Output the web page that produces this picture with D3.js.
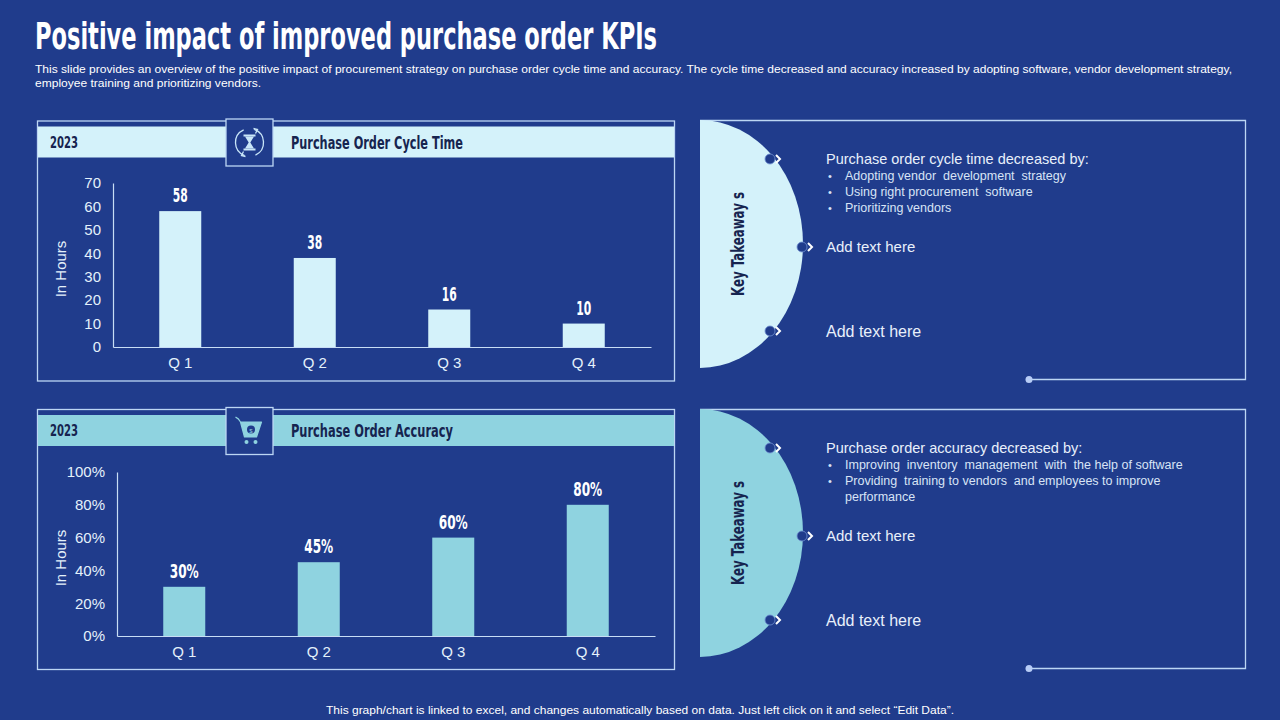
<!DOCTYPE html>
<html>
<head>
<meta charset="utf-8">
<style>
  body { margin: 0; background: #203C8C; }
  svg { display: block; }
  .axis path, .axis line { stroke: #C8DDF5; stroke-width: 1.2; }
  .axis text { font-family: "Liberation Sans", Arial, sans-serif; fill: #E4F1FB; }
</style>
<script src="https://cdn.jsdelivr.net/npm/d3@7"></script>
</head>
<body>
<script>
// ---- data ----
const quarters = ["Q 1", "Q 2", "Q 3", "Q 4"];
const cycleTime = [58, 38, 16, 10];          // hours
const accuracy = [30, 45, 60, 80];           // percent
const cycleTicks = [0, 10, 20, 30, 40, 50, 60, 70];
const accuracyTicks = [0, 20, 40, 60, 80, 100];

const cycleNotes = ["Adopting vendor  development  strategy", "Using right procurement  software", "Prioritizing vendors"];
const accuracyNotes = ["Improving  inventory  management  with  the help of software", "Providing  training to vendors  and employees to improve", "performance"];

const W = 1280, H = 720;
const bg = "#203C8C", pale = "#D4F2FA", mid = "#8FD3E0", ink = "#16244F", line = "#BCD6F4";
const narrow = "'Liberation Sans Narrow', 'DejaVu Sans Condensed', sans-serif";
const sans = "'Liberation Sans', Arial, sans-serif";

const svg = d3.select("body").append("svg").attr("width", W).attr("height", H);
svg.append("rect").attr("width", W).attr("height", H).attr("fill", bg);

// title + subtitle
svg.append("text").attr("x", 35).attr("y", 49)
  .attr("font-family", narrow).attr("font-weight", "bold").attr("font-size", 38)
  .attr("fill", "#fff").attr("textLength", 622).attr("lengthAdjust", "spacingAndGlyphs")
  .text("Positive impact of improved purchase order KPIs");

svg.append("text").attr("x", 35).attr("y", 73)
  .attr("font-family", sans).attr("font-size", 11).attr("fill", "#fff")
  .attr("textLength", 1197).attr("lengthAdjust", "spacingAndGlyphs")
  .text("This slide provides an overview of the positive impact of procurement strategy on purchase order cycle time and accuracy. The cycle time decreased and accuracy increased by adopting software, vendor development strategy,");
svg.append("text").attr("x", 35).attr("y", 87)
  .attr("font-family", sans).attr("font-size", 11).attr("fill", "#fff")
  .attr("textLength", 226).attr("lengthAdjust", "spacingAndGlyphs")
  .text("employee training and prioritizing vendors.");

// footer
svg.append("text").attr("x", 640).attr("y", 714).attr("text-anchor", "middle")
  .attr("font-family", sans).attr("font-size", 11).attr("fill", "#fff")
  .attr("textLength", 628).attr("lengthAdjust", "spacingAndGlyphs")
  .text("This graph/chart is linked to excel, and changes automatically based on data. Just left click on it and select \u201CEdit Data\u201D.");

// ---- bar chart panel ----
function chartPanel(o) {
  const g = svg.append("g").attr("transform", `translate(0,${o.top})`);
  // frame and header band
  g.append("rect").attr("x", 37.5).attr("y", 0.5).attr("width", 637).attr("height", 260)
    .attr("fill", "none").attr("stroke", line).attr("stroke-width", 1.3);
  g.append("rect").attr("x", 38).attr("y", 6).attr("width", 636).attr("height", 31).attr("fill", o.band);
  g.append("text").attr("x", 50).attr("y", 27).attr("font-family", narrow).attr("font-weight", "bold")
    .attr("font-size", 15).attr("fill", ink).attr("textLength", 28).attr("lengthAdjust", "spacingAndGlyphs")
    .text("2023");
  g.append("text").attr("x", 291).attr("y", 28).attr("font-family", narrow).attr("font-weight", "bold")
    .attr("font-size", 18).attr("fill", ink).attr("textLength", o.titleLen).attr("lengthAdjust", "spacingAndGlyphs")
    .text(o.title);
  // icon box
  g.append("rect").attr("x", 226).attr("y", -1.5).attr("width", 47).attr("height", 47)
    .attr("fill", bg).attr("stroke", line).attr("stroke-width", 1.3);
  o.icon(g.append("g").attr("transform", "translate(249.5,22)"));

  const x = d3.scaleBand().domain(quarters).range([o.x0, o.x0 + 538]);
  const y = d3.scaleLinear().domain([0, o.max]).range([o.base, o.base - 164]);
  const bw = 42;

  g.append("g").attr("class", "axis").attr("transform", `translate(${o.x0},0)`)
    .call(d3.axisLeft(y).tickValues(o.ticks).tickSize(0).tickSizeOuter(0).tickPadding(12).tickFormat(o.fmt))
    .call(s => s.selectAll("text").attr("font-size", 15));
  g.append("g").attr("class", "axis").attr("transform", `translate(0,${o.base})`)
    .call(d3.axisBottom(x).tickSize(0).tickSizeOuter(0).tickPadding(10))
    .call(s => s.selectAll("text").attr("font-size", 15));

  g.selectAll("rect.bar").data(o.values).join("rect").attr("class", "bar")
    .attr("x", (d, i) => x(quarters[i]) + x.bandwidth() / 2 - bw / 2)
    .attr("y", d => y(d)).attr("width", bw).attr("height", d => o.base - y(d))
    .attr("fill", o.bar);

  g.selectAll("text.val").data(o.values).join("text").attr("class", "val")
    .attr("x", (d, i) => x(quarters[i]) + x.bandwidth() / 2).attr("y", d => y(d) - 9)
    .attr("text-anchor", "middle").attr("font-family", narrow).attr("font-weight", "bold")
    .attr("font-size", 19).attr("fill", "#fff")
    .attr("textLength", d => String(d).length * 7.5 + (o.pct ? 14 : 0)).attr("lengthAdjust", "spacingAndGlyphs")
    .text(o.fmt);

  g.append("text").attr("transform", `translate(66,${o.base - 78}) rotate(-90)`)
    .attr("text-anchor", "middle").attr("font-family", sans).attr("font-size", 15)
    .attr("fill", "#E4F1FB").text("In Hours");
}

function hourglass(g) {
  const c = "#C9E6F8";
  g.append("path").attr("d", d3.arc()({ innerRadius: 14, outerRadius: 14, startAngle: 0.35, endAngle: 2.7 }))
    .attr("fill", "none").attr("stroke", c).attr("stroke-width", 1.3);
  g.append("path").attr("d", d3.arc()({ innerRadius: 14, outerRadius: 14, startAngle: 3.5, endAngle: 5.85 }))
    .attr("fill", "none").attr("stroke", c).attr("stroke-width", 1.3);
  g.append("path").attr("d", "M4,-14 L8,-13 L6,-9").attr("fill", "none").attr("stroke", c).attr("stroke-width", 1.3);
  g.append("path").attr("d", "M-4,14 L-8,13 L-6,9").attr("fill", "none").attr("stroke", c).attr("stroke-width", 1.3);
  g.append("rect").attr("x", -6).attr("y", -8).attr("width", 12).attr("height", 2).attr("fill", c);
  g.append("rect").attr("x", -6).attr("y", 6).attr("width", 12).attr("height", 2).attr("fill", c);
  g.append("path").attr("d", "M-4.5,-6 L4.5,-6 L0.8,0 L4.5,6 L-4.5,6 L-0.8,0 Z").attr("fill", c);
}

function cart(g) {
  const c = "#8FD3E0";
  g.append("path").attr("d", "M-14,-14 L-11,-12 L-9,-9 L12,-9 L7,6 L-5,6 L-9,-9").attr("fill", c)
    .attr("stroke", c).attr("stroke-width", 1.2).attr("stroke-linejoin", "round");
  g.append("circle").attr("r", 4).attr("cy", -1.5).attr("cx", 1.5).attr("fill", bg);
  g.append("text").attr("x", 1.5).attr("y", 1.5).attr("text-anchor", "middle").attr("font-size", 6)
    .attr("font-family", sans).attr("fill", c).text("$");
  g.append("circle").attr("r", 2).attr("cx", -3).attr("cy", 11).attr("fill", c);
  g.append("circle").attr("r", 2).attr("cx", 6).attr("cy", 11).attr("fill", c);
}

chartPanel({ top: 120.5, title: "Purchase Order Cycle Time", titleLen: 172, band: pale, bar: pale,
  values: cycleTime, max: 70, ticks: cycleTicks, fmt: d => d, pct: false, x0: 113, base: 226.5, icon: hourglass });
chartPanel({ top: 409, title: "Purchase Order Accuracy", titleLen: 162, band: mid, bar: mid,
  values: accuracy, max: 100, ticks: accuracyTicks, fmt: d => d + "%", pct: true, x0: 117, base: 227, icon: cart });

// ---- key takeaways panel ----
function takeaways(o) {
  const g = svg.append("g").attr("transform", `translate(0,${o.top})`);
  g.append("path").attr("d", "M700,0.5 L1245.5,0.5 L1245.5,259.5 L1029,259.5")
    .attr("fill", "none").attr("stroke", line).attr("stroke-width", 1.3);
  g.append("circle").attr("cx", 1029).attr("cy", 259.5).attr("r", 3.5).attr("fill", "#B8CDF7");
  g.append("path").attr("d", "M700,0 A103,124 0 0 1 700,248 Z").attr("fill", o.fill);
  g.append("text").attr("transform", "translate(744,124) rotate(-90)").attr("text-anchor", "middle")
    .attr("font-family", narrow).attr("font-weight", "bold").attr("font-size", 17).attr("fill", ink)
    .attr("textLength", 104).attr("lengthAdjust", "spacingAndGlyphs")
    .text("Key Takeaway s");

  [[770, 39], [802, 127], [770, 211]].forEach(([cx, cy]) => {
    g.append("circle").attr("cx", cx).attr("cy", cy).attr("r", 5).attr("fill", bg)
      .attr("stroke", "#6F8FD0").attr("stroke-width", 0.8);
    g.append("path").attr("d", `M${cx + 6},${cy - 4} L${cx + 10},${cy} L${cx + 6},${cy + 4}`)
      .attr("fill", "none").attr("stroke", "#fff").attr("stroke-width", 2);
  });

  g.append("text").attr("x", 826).attr("y", 44).attr("font-family", sans).attr("font-size", 14.5)
    .attr("fill", "#E8F0FB").text(o.head);
  o.notes.forEach((t, i) => {
    if (!o.cont || i < o.notes.length - 1) {
      g.append("text").attr("x", 828).attr("y", 60 + i * 16).attr("font-family", sans).attr("font-size", 11)
        .attr("fill", "#D8E4F6").text("\u2022");
    }
    g.append("text").attr("x", 845).attr("y", 60 + i * 16).attr("font-family", sans).attr("font-size", 12.5)
      .attr("fill", "#D8E4F6").style("white-space", "pre").text(t);
  });
  g.append("text").attr("x", 826).attr("y", 132).attr("font-family", sans).attr("font-size", 15)
    .attr("fill", "#E8F0FB").text("Add text here");
  g.append("text").attr("x", 826).attr("y", 217).attr("font-family", sans).attr("font-size", 16)
    .attr("fill", "#E8F0FB").text("Add text here");
}

takeaways({ top: 120, fill: pale, head: "Purchase order cycle time decreased by:", notes: cycleNotes, cont: false });
takeaways({ top: 409, fill: mid, head: "Purchase order accuracy decreased by:", notes: accuracyNotes, cont: true });
</script>
</body>
</html>
